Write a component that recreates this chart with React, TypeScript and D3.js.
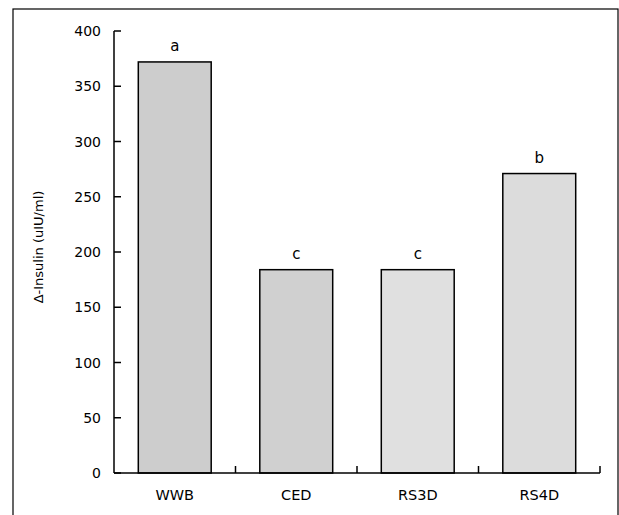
import React from "react";
import * as d3 from "d3";

const categories = ["WWB", "CED", "RS3D", "RS4D"];
const values = [372, 184, 184, 271];
const letters = ["a", "c", "c", "b"];
const fills = ["#cdcdcd", "#d0d0d0", "#e0e0e0", "#dcdcdc"];
const yTicks = [0, 50, 100, 150, 200, 250, 300, 350, 400];

const W = 619;
const H = 515;
const x0 = 114;
const x1 = 600;
const yTop = 31;
const yBot = 473;
const font = "'DejaVu Sans', sans-serif";

export default function App() {
  const x = d3
    .scaleBand<string>()
    .domain(categories)
    .range([x0, x1])
    .paddingInner(0.4)
    .paddingOuter(0.2);
  const y = d3.scaleLinear().domain([0, 400]).range([yBot, yTop]);
  const step = x.step();
  const boundaries = categories.map((_, i) => x0 + step * (i + 1));

  return (
    <svg
      width={W}
      height={H}
      style={{ position: "absolute", left: 0, top: 0, background: "#fff" }}
    >
      <rect x={13} y={9} width={605} height={520} fill="none" stroke="#000" strokeWidth={1.2} />

      {categories.map((c, i) => (
        <g key={c}>
          <rect
            x={x(c)}
            y={y(values[i])}
            width={x.bandwidth()}
            height={y(0) - y(values[i])}
            fill={fills[i]}
            stroke="#000"
            strokeWidth={1.5}
          />
          <text
            x={(x(c) as number) + x.bandwidth() / 2}
            y={y(values[i]) - 11}
            textAnchor="middle"
            fontFamily={font}
            fontSize={15}
            fill="#000"
          >
            {letters[i]}
          </text>
          <text
            x={(x(c) as number) + x.bandwidth() / 2}
            y={500}
            textAnchor="middle"
            fontFamily={font}
            fontSize={14.5}
            fill="#000"
          >
            {c}
          </text>
        </g>
      ))}

      {/* y axis */}
      <line x1={x0} x2={x0} y1={yTop} y2={yBot} stroke="#000" strokeWidth={1.5} />
      {yTicks.map((t) => (
        <g key={t}>
          <line x1={x0} x2={x0 + 7} y1={y(t)} y2={y(t)} stroke="#000" strokeWidth={1.5} />
          <text
            x={101}
            y={y(t)}
            dy="0.36em"
            textAnchor="end"
            fontFamily={font}
            fontSize={14}
            fill="#000"
          >
            {t}
          </text>
        </g>
      ))}

      {/* x axis */}
      <line x1={x0} x2={x1} y1={yBot} y2={yBot} stroke="#000" strokeWidth={1.5} />
      {boundaries.map((b, i) => (
        <line key={i} x1={b} x2={b} y1={yBot} y2={yBot - 7} stroke="#000" strokeWidth={1.5} />
      ))}

      <text
        transform={`translate(43, 247) rotate(-90)`}
        textAnchor="middle"
        fontFamily={font}
        fontSize={13}
        fill="#000"
      >
        Δ-Insulin (uIU/ml)
      </text>
    </svg>
  );
}
